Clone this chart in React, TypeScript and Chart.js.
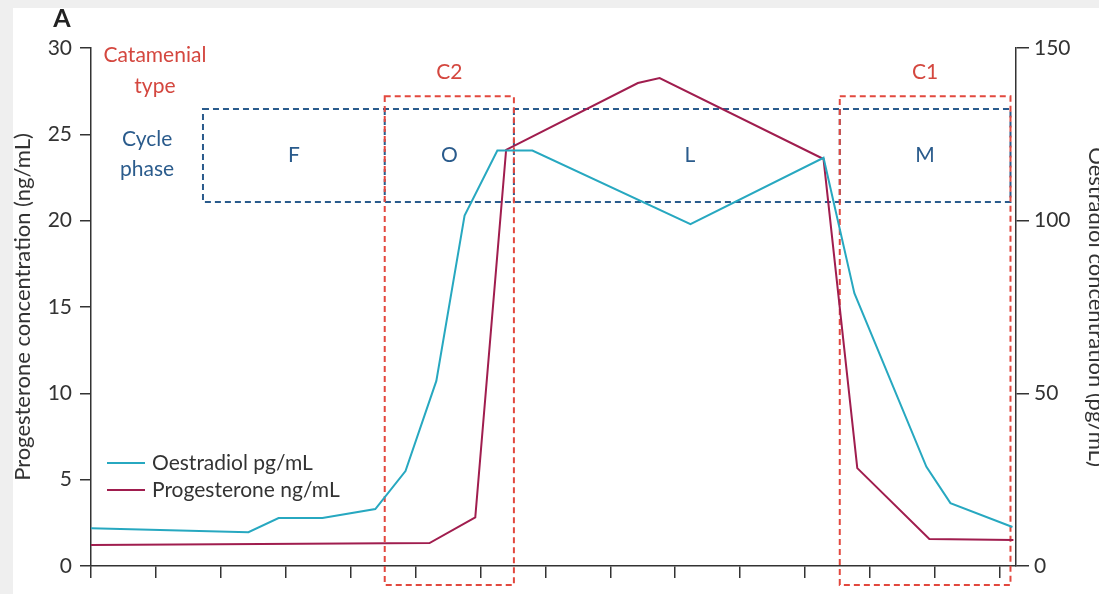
import { useEffect, useRef } from 'react';
import { Chart, registerables } from 'chart.js';

Chart.register(...registerables);

// Cycle day (x) and hormone levels read along the menstrual cycle
const oestradiolDays = [0, 4.85, 5.78, 7.13, 8.76, 9.69, 10.64, 11.51, 12.52, 13.6, 18.47, 22.57, 23.52, 25.74, 26.48, 28.39];
const oestradiolValues = [10.9, 9.8, 13.9, 13.9, 16.5, 27.5, 53.6, 101.5, 120.3, 120.3, 99.0, 118.2, 79.0, 28.7, 18.2, 11.3];
const progesteroneDays = [0, 10.43, 11.84, 12.79, 16.85, 17.52, 22.57, 23.61, 25.83, 28.42];
const progesteroneValues = [1.22, 1.33, 2.82, 24.1, 27.97, 28.26, 23.57, 5.67, 1.56, 1.5];

// Axis ranges and tick steps
const dayRange = [0, 28.5];
const dayStep = 2;
const progesteroneRange = [0, 30];
const progesteroneStep = 5;
const oestradiolRange = [0, 150];
const oestradiolStep = 50;

// Cycle phases: boundaries (days) and label positions (days)
const phaseNames = ['F', 'O', 'L', 'M'];
const phaseEdges = [3.45, 9.05, 13.03, 23.07, 28.33];
const phaseLabelDays = [6.25, 11.04, 18.45, 25.7];
const phaseBand = [21.08, 26.46]; // progesterone units

// Catamenial types spanning the phases
const catamenialNames = ['C2', 'C1'];
const catamenialStarts = [9.05, 23.07];
const catamenialEnds = [13.03, 28.33];
const catamenialTop = 27.2;

const FONT = 'Lato, "Open Sans", sans-serif';
const AXIS = '#333333';
const CYAN = '#27a8c0';
const MAROON = '#a01d4e';
const RED = '#e2483e';
const RED_TEXT = '#d4473f';
const BLUE = '#2a5b8c';

const backdrop = {
  id: 'backdrop',
  beforeDraw(chart: any) {
    const { ctx, width, height } = chart;
    ctx.save();
    ctx.fillStyle = '#efefef';
    ctx.fillRect(0, 0, width, height);
    ctx.fillStyle = '#ffffff';
    ctx.fillRect(13, 8, width - 13, height - 8);
    ctx.restore();
  },
};

const phaseBoxes = {
  id: 'phaseBoxes',
  beforeDatasetsDraw(chart: any) {
    const { ctx, chartArea } = chart;
    const x = chart.scales.x;
    const y = chart.scales.y;
    ctx.save();
    ctx.lineWidth = 2;
    ctx.setLineDash([6, 4]);

    // cycle phase band
    const top = y.getPixelForValue(phaseBand[1]);
    const bottom = y.getPixelForValue(phaseBand[0]);
    const left = x.getPixelForValue(phaseEdges[0]);
    const right = x.getPixelForValue(phaseEdges[phaseEdges.length - 1]);
    ctx.strokeStyle = BLUE;
    ctx.strokeRect(left, top, right - left, bottom - top);
    ctx.beginPath();
    for (let i = 1; i < phaseEdges.length - 1; i++) {
      const px = x.getPixelForValue(phaseEdges[i]);
      ctx.moveTo(px, top);
      ctx.lineTo(px, bottom);
    }
    ctx.stroke();

    // catamenial windows
    ctx.strokeStyle = RED;
    const rTop = y.getPixelForValue(catamenialTop);
    const rBottom = chartArea.bottom + 19;
    catamenialStarts.forEach((s, i) => {
      const a = x.getPixelForValue(s);
      const b = x.getPixelForValue(catamenialEnds[i]);
      ctx.strokeRect(a, rTop, b - a, rBottom - rTop);
    });
    ctx.setLineDash([]);

    // labels
    ctx.font = `21px ${FONT}`;
    ctx.textAlign = 'center';
    ctx.textBaseline = 'middle';
    ctx.fillStyle = BLUE;
    const midY = (top + bottom) / 2;
    phaseNames.forEach((n, i) => {
      ctx.fillText(n, x.getPixelForValue(phaseLabelDays[i]), midY);
    });
    ctx.fillText('Cycle', x.getPixelForValue(1.73), y.getPixelForValue(24.7));
    ctx.fillText('phase', x.getPixelForValue(1.73), y.getPixelForValue(23.0));

    ctx.fillStyle = RED_TEXT;
    const cY = y.getPixelForValue(28.6);
    catamenialNames.forEach((n, i) => {
      const mid = (catamenialStarts[i] + catamenialEnds[i]) / 2;
      ctx.fillText(n, x.getPixelForValue(mid), cY);
    });
    ctx.fillText('Catamenial', x.getPixelForValue(1.97), y.getPixelForValue(29.6));
    ctx.fillText('type', x.getPixelForValue(1.97), y.getPixelForValue(27.8));
    ctx.restore();
  },
};

const overlay = {
  id: 'overlay',
  afterDraw(chart: any) {
    const { ctx, chartArea } = chart;
    ctx.save();
    // panel letter
    ctx.font = `bold 25px ${FONT}`;
    ctx.fillStyle = '#222';
    ctx.textAlign = 'center';
    ctx.textBaseline = 'middle';
    ctx.fillText('A', 62, 19);

    // legend
    ctx.font = `21px ${FONT}`;
    ctx.textAlign = 'left';
    chart.data.datasets.forEach((ds: any, i: number) => {
      const ly = chartArea.bottom - 103 + i * 27;
      const lx = chartArea.left + 16;
      ctx.strokeStyle = ds.borderColor;
      ctx.lineWidth = 2;
      ctx.beginPath();
      ctx.moveTo(lx, ly);
      ctx.lineTo(lx + 38, ly);
      ctx.stroke();
      ctx.fillStyle = '#333';
      ctx.fillText(ds.label, lx + 45, ly);
    });
    ctx.restore();
  },
};

export default function App() {
  const ref = useRef<HTMLCanvasElement>(null);

  useEffect(() => {
    if (!ref.current) return;
    const tickFont = { family: FONT, size: 21 };
    const titleFont = { family: FONT, size: 22 };
    const chart = new Chart(ref.current, {
      type: 'line',
      data: {
        datasets: [
          {
            label: 'Oestradiol pg/mL',
            data: oestradiolDays.map((d, i) => ({ x: d, y: oestradiolValues[i] })),
            borderColor: CYAN,
            borderWidth: 2,
            pointRadius: 0,
            tension: 0,
            yAxisID: 'y1',
          },
          {
            label: 'Progesterone ng/mL',
            data: progesteroneDays.map((d, i) => ({ x: d, y: progesteroneValues[i] })),
            borderColor: MAROON,
            borderWidth: 2,
            pointRadius: 0,
            tension: 0,
            yAxisID: 'y',
          },
        ],
      },
      options: {
        animation: false,
        responsive: false,
        devicePixelRatio: 1,
        layout: { padding: { top: 48, left: 0, right: 0, bottom: 0 } },
        plugins: { legend: { display: false }, tooltip: { enabled: false } },
        scales: {
          x: {
            type: 'linear',
            min: dayRange[0],
            max: dayRange[1],
            afterFit(s: any) { s.height = 28; },
            ticks: { display: false, stepSize: dayStep, includeBounds: false },
            grid: { drawOnChartArea: false, drawTicks: true, tickLength: 12, color: AXIS, lineWidth: 1.5 },
            border: { color: AXIS, width: 1.5 },
          },
          y: {
            position: 'left',
            min: progesteroneRange[0],
            max: progesteroneRange[1],
            afterFit(s: any) { s.width = 91; },
            ticks: { stepSize: progesteroneStep, padding: 8, color: AXIS, font: tickFont },
            grid: { drawOnChartArea: false, tickLength: 11, color: AXIS, lineWidth: 1.5 },
            border: { color: AXIS, width: 1.5 },
            title: {
              display: true,
              text: 'Progesterone concentration (ng/mL)',
              color: AXIS,
              font: titleFont,
              padding: { top: 10, bottom: 0 },
            },
          },
          y1: {
            position: 'right',
            min: oestradiolRange[0],
            max: oestradiolRange[1],
            afterFit(s: any) { s.width = 83; },
            ticks: { stepSize: oestradiolStep, padding: 5, color: AXIS, font: tickFont },
            grid: { drawOnChartArea: false, tickLength: 13, color: AXIS, lineWidth: 1.5 },
            border: { color: AXIS, width: 1.5 },
            title: {
              display: true,
              text: 'Oestradiol concentration (pg/mL)',
              color: AXIS,
              font: titleFont,
              padding: { top: -10, bottom: 0 },
            },
          },
        },
      },
      plugins: [backdrop, phaseBoxes, overlay],
    } as any);
    return () => chart.destroy();
  }, []);

  return (
    <canvas
      ref={ref}
      width={1099}
      height={594}
      style={{ position: 'fixed', left: 0, top: 0, display: 'block' }}
    />
  );
}
